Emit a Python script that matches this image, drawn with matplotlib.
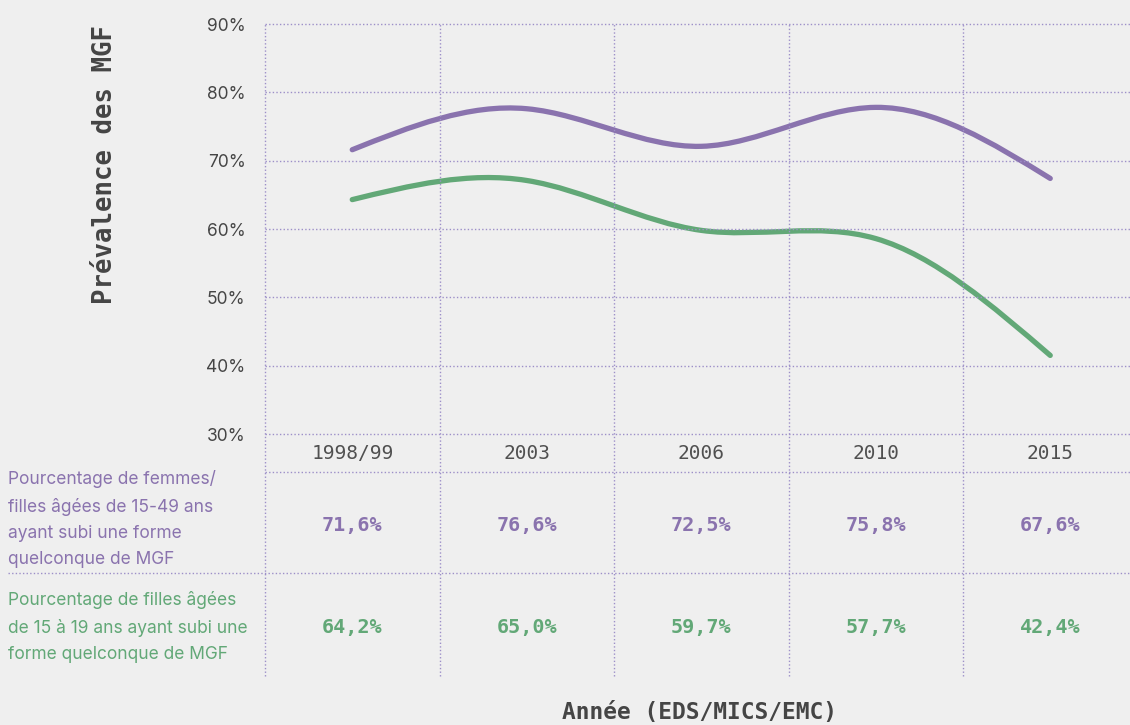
import numpy as np
import matplotlib
matplotlib.use('Agg')
from matplotlib import pyplot as plt
from matplotlib.path import Path
from matplotlib.patches import PathPatch
from matplotlib.lines import Line2D
from matplotlib.transforms import blended_transform_factory

# donnees
annees = ['1998/99', '2003', '2006', '2010', '2015']
courbe_femmes = [71.6, 77.6, 72.1, 77.8, 67.4]
courbe_filles = [64.3, 67.1, 59.8, 58.6, 41.5]
tableau_femmes = ['71,6%', '76,6%', '72,5%', '75,8%', '67,6%']
tableau_filles = ['64,2%', '65,0%', '59,7%', '57,7%', '42,4%']
graduations = [30, 40, 50, 60, 70, 80, 90]

label_femmes = 'Pourcentage de femmes/\nfilles âgées de 15-49 ans\nayant subi une forme\nquelconque de MGF'
label_filles = 'Pourcentage de filles âgées\nde 15 à 19 ans ayant subi une\nforme quelconque de MGF'

violet = '#8a73ae'
vert = '#62a877'
gris = '#454545'
fond = '#efefef'
grille = '#9d8fc8'

W, H = 1130, 725
fig = plt.figure(figsize=(W / 100, H / 100), dpi=100)
fig.patch.set_facecolor(fond)

# zone du graphique (en pixels de la figure)
x0, col = 265, 174.5
ax = fig.add_axes([x0 / W, 1 - 434 / H, 5 * col / W, 410 / H])
ax.set_facecolor('none')
ax.set_xlim(-0.5, 4.5)
ax.set_ylim(30, 90)
for s in ax.spines.values():
    s.set_visible(False)
ax.set_xticks([])
ax.set_yticks(graduations)
ax.set_yticklabels([f'{v}%' for v in graduations], fontsize=12.5, color=gris, family='Inter')
ax.tick_params(axis='y', length=0, pad=14)

pointille = dict(color=grille, lw=1.0, linestyle=(0, (1, 1.6)))
for v in graduations:
    ax.axhline(v, clip_on=False, **pointille)


def spline_naturelle(y):
    # spline cubique naturelle, convertie en courbes de Bezier
    y = np.asarray(y, dtype=float)
    n = len(y)
    A = np.zeros((n, n))
    b = np.zeros(n)
    A[0, 0] = A[-1, -1] = 1
    for i in range(1, n - 1):
        A[i, i - 1], A[i, i], A[i, i + 1] = 1, 4, 1
        b[i] = 6 * (y[i + 1] - 2 * y[i] + y[i - 1])
    M = np.linalg.solve(A, b)
    pente = np.zeros(n)
    for i in range(n - 1):
        pente[i] = (y[i + 1] - y[i]) - (2 * M[i] + M[i + 1]) / 6
    pente[-1] = (y[-1] - y[-2]) + (M[-2] + 2 * M[-1]) / 6
    verts = [(0, y[0])]
    codes = [Path.MOVETO]
    for i in range(n - 1):
        verts += [(i + 1 / 3, y[i] + pente[i] / 3),
                  (i + 2 / 3, y[i + 1] - pente[i + 1] / 3),
                  (i + 1, y[i + 1])]
        codes += [Path.CURVE4] * 3
    return Path(verts, codes)


for serie, c in [(courbe_femmes, violet), (courbe_filles, vert)]:
    ax.add_patch(PathPatch(spline_naturelle(serie), fill=False, edgecolor=c,
                           lw=3.8, capstyle='round', joinstyle='round'))

# lignes du tableau
trans = blended_transform_factory(ax.transData, fig.transFigure)
for xb in np.arange(-0.5, 4, 1.0):
    fig.add_artist(Line2D([xb, xb], [1 - 676 / H, 1 - 24 / H], transform=trans, **pointille))
fig.add_artist(Line2D([x0 / W, 1], [1 - 472 / H, 1 - 472 / H], transform=fig.transFigure, **pointille))
fig.add_artist(Line2D([8 / W, 1], [1 - 573 / H, 1 - 573 / H], transform=fig.transFigure, **pointille))

for i, an in enumerate(annees):
    fig.text(i, 1 - 453 / H, an, transform=trans, ha='center', va='center',
             fontsize=14, color='#505050', family='DejaVu Sans Mono')
    fig.text(i, 1 - 525 / H, tableau_femmes[i], transform=trans, ha='center', va='center',
             fontsize=14.5, color=violet, family='DejaVu Sans Mono', fontweight='bold')
    fig.text(i, 1 - 627 / H, tableau_filles[i], transform=trans, ha='center', va='center',
             fontsize=14.5, color=vert, family='DejaVu Sans Mono', fontweight='bold')

fig.text(8 / W, 1 - 519 / H, label_femmes, ha='left', va='center', fontsize=12.5,
         color=violet, family='Inter', linespacing=1.72)
fig.text(8 / W, 1 - 627 / H, label_filles, ha='left', va='center', fontsize=12.5,
         color=vert, family='Inter', linespacing=1.72)

# titres des axes
fig.text(105 / W, 1 - 165 / H, 'Prévalence des MGF', rotation=90, ha='center', va='center',
         fontsize=18.5, fontweight='bold', color=gris, family='DejaVu Sans Mono')
fig.text(700 / W, 1 - 719 / H, 'Année (EDS/MICS/EMC)', ha='center', va='baseline',
         fontsize=16.5, fontweight='bold', color=gris, family='DejaVu Sans Mono')

plt.savefig('out.png', dpi=100, facecolor=fond)
